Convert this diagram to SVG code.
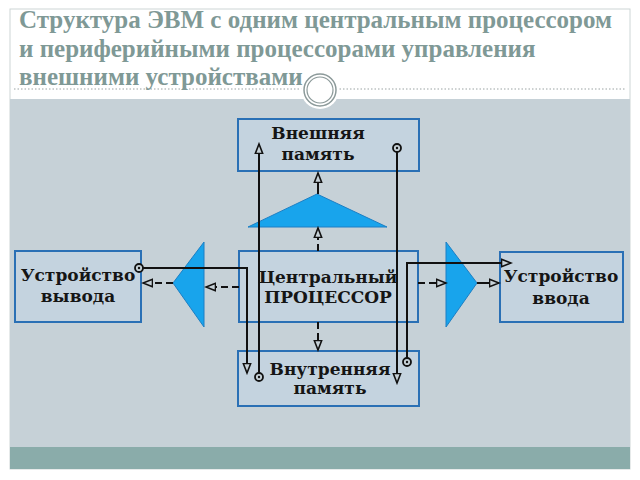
<svg xmlns="http://www.w3.org/2000/svg" width="640" height="480" viewBox="0 0 640 480">
<defs>
<style>
.title{font-family:"Liberation Serif","Times New Roman",serif;font-weight:bold;font-size:25px;fill:#7f9996}
.box{fill:#c4d3df;stroke:#2a70b5;stroke-width:2}
.lbl{font-family:"DejaVu Serif","Liberation Serif",serif;font-weight:bold;font-size:17px;fill:#151515;text-anchor:middle}
.tri{fill:#18a4ec;stroke:#1c7fc4;stroke-width:1}
.ln{fill:none;stroke:#111;stroke-width:2}
.dash{fill:none;stroke:#111;stroke-width:2;stroke-dasharray:7 4}
.dot{fill:#c6d1d7;stroke:#111;stroke-width:1.8}
</style>
<marker id="arr" markerUnits="userSpaceOnUse" markerWidth="12" markerHeight="10" refX="10" refY="4.5" orient="auto" viewBox="0 0 12 9">
<path d="M0.5,0.8 L10,4.5 L0.5,8.2 Z" fill="#c6d1d7" stroke="#111" stroke-width="1.6"/>
</marker>
</defs>
<rect x="0" y="0" width="640" height="480" fill="#ffffff"/>
<rect x="10" y="9" width="620" height="460" fill="none" stroke="#cdd6d6" stroke-width="1"/>
<rect x="10" y="99" width="620" height="348" fill="#c6d1d7"/>
<rect x="10" y="447" width="620" height="22" fill="#8aacaa"/>
<line x1="14" y1="89" x2="626" y2="89" stroke="#9aa3a3" stroke-width="1" stroke-dasharray="1.5 2"/>
<circle cx="320" cy="90" r="19" fill="#ffffff"/>
<circle cx="320" cy="90" r="16" fill="#ffffff" stroke="#8c9a9a" stroke-width="1.5"/>
<circle cx="320" cy="90" r="13" fill="none" stroke="#8c9a9a" stroke-width="1.2"/>
<text class="title" x="19" y="28">Структура ЭВМ с одним центральным процессором</text>
<text class="title" x="19" y="57">и периферийными процессорами управления</text>
<text class="title" x="19" y="85">внешними устройствами</text>

<g id="ext-mem"><rect class="box" x="238" y="119" width="181" height="52"/><text class="lbl" x="318" y="139">Внешняя</text><text class="lbl" x="318" y="160">память</text></g>
<g id="cpu"><rect class="box" x="239" y="251" width="179" height="71"/><text class="lbl" x="328" y="283">Центральный</text><text class="lbl" x="328" y="303">ПРОЦЕССОР</text></g>
<g id="int-mem"><rect class="box" x="238" y="351" width="181" height="55"/><text class="lbl" x="330" y="375">Внутренняя</text><text class="lbl" x="330" y="394">память</text></g>
<g id="out-dev"><rect class="box" x="15" y="251" width="126" height="71"/><text class="lbl" x="78" y="281">Устройство</text><text class="lbl" x="78" y="302">вывода</text></g>
<g id="in-dev"><rect class="box" x="500" y="252" width="123" height="70"/><text class="lbl" x="561" y="282">Устройство</text><text class="lbl" x="561" y="304">ввода</text></g>
<g id="proc-top"><polygon class="tri" points="317,194 387,227 248,227"/></g>
<g id="proc-left"><polygon class="tri" points="173,283 204,242 204,327"/></g>
<g id="proc-right"><polygon class="tri" points="446,242 477,283 446,327"/></g>

<g id="connectors">
<path class="ln" d="M259,377 V144" marker-end="url(#arr)"/>
<circle class="dot" cx="259" cy="377" r="4"/><circle cx="259" cy="377" r="1.2" fill="#111"/>
<path class="ln" d="M397,148 V383" marker-end="url(#arr)"/>
<circle class="dot" cx="397" cy="148" r="4"/><circle cx="397" cy="148" r="1.2" fill="#111"/>
<path class="ln" d="M139,268 H247 V373" marker-end="url(#arr)"/>
<circle class="dot" cx="139" cy="268" r="4"/><circle cx="139" cy="268" r="1.2" fill="#111"/>
<path class="ln" d="M407,362 V263 H511" marker-end="url(#arr)"/>
<circle class="dot" cx="407" cy="362" r="4"/><circle cx="407" cy="362" r="1.2" fill="#111"/>
<path class="dash" d="M239,287 H206" marker-end="url(#arr)"/>
<path class="dash" d="M173,283 H143" marker-end="url(#arr)"/>
<path class="dash" d="M418,283 H446" marker-end="url(#arr)"/>
<path class="ln" d="M477,283 H499" marker-end="url(#arr)"/>
<path class="dash" d="M318,251 V228" marker-end="url(#arr)"/>
<path class="ln" d="M318,194 V173" marker-end="url(#arr)"/>
<path class="dash" d="M318,322 V350" marker-end="url(#arr)"/>
</g>
</svg>
